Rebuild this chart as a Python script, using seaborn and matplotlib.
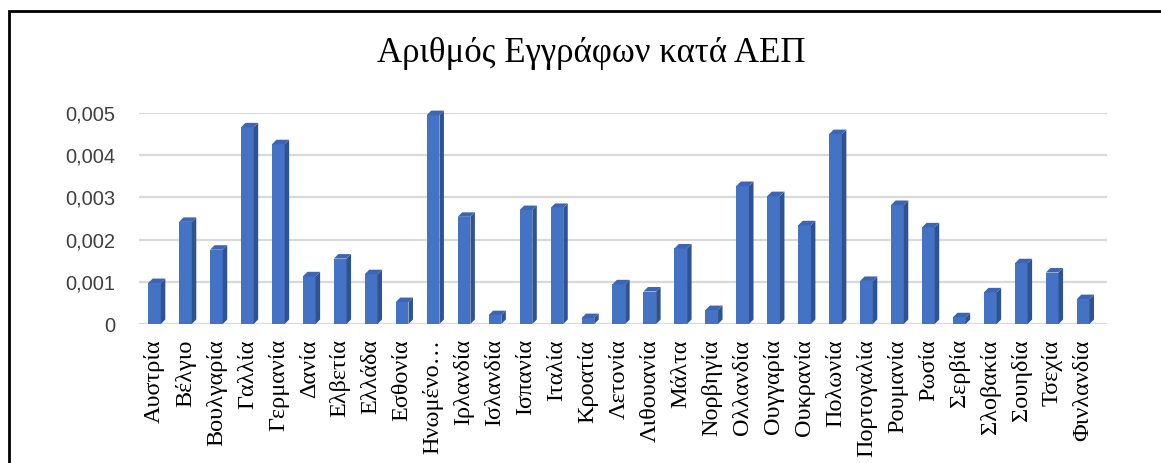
import matplotlib
matplotlib.use("Agg")
import matplotlib.pyplot as plt
from matplotlib.patches import Polygon, Rectangle
import seaborn as sns
import pandas as pd

countries = ["Αυστρία", "Βέλγιο", "Βουλγαρία", "Γαλλία", "Γερμανία", "Δανία",
             "Ελβετία", "Ελλάδα", "Εσθονία", "Ηνωμένο…", "Ιρλανδία", "Ισλανδία",
             "Ισπανία", "Ιταλία", "Κροατία", "Λετονία", "Λιθουανία", "Μάλτα",
             "Νορβηγία", "Ολλανδία", "Ουγγαρία", "Ουκρανία", "Πολωνία",
             "Πορτογαλία", "Ρουμανία", "Ρωσία", "Σερβία", "Σλοβακία", "Σουηδία",
             "Τσεχία", "Φινλανδία"]
values = [0.00097, 0.00242, 0.00176, 0.00466, 0.00426, 0.00113,
          0.00155, 0.00118, 0.00052, 0.00495, 0.00254, 0.00021,
          0.00270, 0.00275, 0.00014, 0.00094, 0.00077, 0.00179,
          0.00033, 0.00327, 0.00303, 0.00234, 0.00450,
          0.00102, 0.00282, 0.00229, 0.00016, 0.00075, 0.00144,
          0.00122, 0.00059]
yticks = [0, 0.001, 0.002, 0.003, 0.004, 0.005]
ytick_labels = ["0", "0,001", "0,002", "0,003", "0,004", "0,005"]
title = "Αριθμός Εγγράφων κατά ΑΕΠ"

df = pd.DataFrame({"country": countries, "value": values})

sns.set_theme(style="white")
plt.rcParams["font.family"] = ["Liberation Serif", "DejaVu Serif"]

W, H = 1161, 463
fig = plt.figure(figsize=(W / 100, H / 100), dpi=100)
fig.patch.set_facecolor("white")
ax = fig.add_axes([139 / W, 1 - 324 / H, (1107 - 139) / W, (324 - 113) / H])

front = "#4472C4"
side = "#2F5290"
top = "#3C66B4"

sns.barplot(data=df, x="country", y="value", color=front, saturation=1,
            width=0.41, ax=ax, zorder=3, linewidth=0)

ax.set_xlim(-0.5, 30.77)
ax.set_ylim(0, 0.005)
ax.set_yticks(yticks)
ax.set_yticklabels(ytick_labels, family=["Liberation Sans", "DejaVu Sans"],
                   fontsize=14.5, color="#404040")
ax.tick_params(axis="y", length=0, pad=17)
ax.tick_params(axis="x", length=0, pad=11)
for lbl in ax.get_xticklabels():
    lbl.set_rotation(90)
    lbl.set_fontsize(17.5)
    lbl.set_color("black")
    lbl.set_va("top")
    lbl.set_ha("center")
ax.set_xlabel("")
ax.set_ylabel("")
ax.grid(axis="y", color="#D9D9D9", linewidth=1.6, zorder=0)
ax.grid(axis="x", visible=False)
for s in ax.spines.values():
    s.set_visible(False)

# 3D faces derived from bar geometry
fig.canvas.draw()
bbox = ax.get_window_extent()
xr = ax.get_xlim()[1] - ax.get_xlim()[0]
yr = ax.get_ylim()[1] - ax.get_ylim()[0]
dx = 4.5 * xr / bbox.width
dy = 4.5 * yr / bbox.height
for p in ax.patches:
    x0 = p.get_x()
    x1 = x0 + p.get_width()
    h = p.get_height()
    ax.add_patch(Polygon([(x1, 0), (x1 + dx, dy), (x1 + dx, h + dy), (x1, h)],
                         closed=True, facecolor=side, edgecolor="none",
                         zorder=3, clip_on=False))
    ax.add_patch(Polygon([(x0, h), (x0 + dx, h + dy), (x1 + dx, h + dy), (x1, h)],
                         closed=True, facecolor=top, edgecolor="none",
                         zorder=3, clip_on=False))

fig.text(591 / W, 1 - 62 / H, title, ha="center", va="baseline",
         fontsize=25, color="black")

fig.add_artist(Rectangle((9 / W, -0.1), 1.5, 1 - 11 / H + 0.1,
                         transform=fig.transFigure, fill=False,
                         edgecolor="black", linewidth=2.0))

fig.savefig("out.png", dpi=100, facecolor="white")
